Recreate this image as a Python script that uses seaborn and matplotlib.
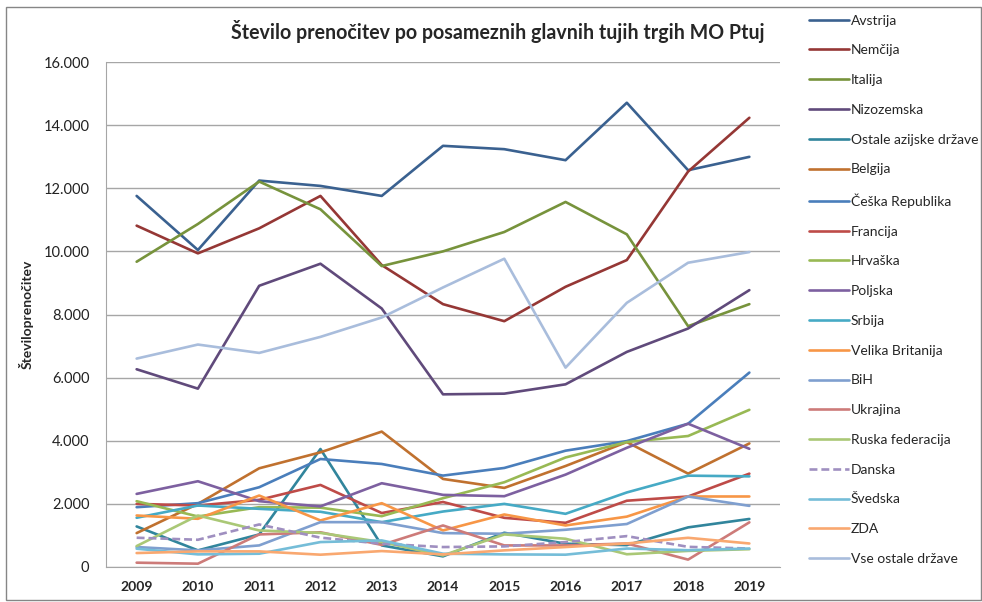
import pandas as pd
import matplotlib
matplotlib.use('Agg')
import matplotlib.pyplot as plt
import matplotlib.ticker as mticker
from matplotlib.patches import Rectangle
import seaborn as sns

years = list(range(2009, 2020))

trgi = ['Avstrija', 'Nemčija', 'Italija', 'Nizozemska', 'Ostale azijske države',
        'Belgija', 'Češka Republika', 'Francija', 'Hrvaška', 'Poljska', 'Srbija',
        'Velika Britanija', 'BiH', 'Ukrajina', 'Ruska federacija', 'Danska',
        'Švedska', 'ZDA', 'Vse ostale države']

avstrija = [11757, 10043, 12243, 12074, 11757, 13344, 13238, 12889, 14709, 12571, 12995]
nemcija = [10815, 9937, 10730, 11757, 9566, 8328, 7788, 8878, 9725, 12529, 14233]
italija = [9672, 10868, 12212, 11333, 9535, 10000, 10614, 11566, 10540, 7630, 8328]
nizozemska = [6265, 5651, 8910, 9609, 8190, 5471, 5492, 5788, 6815, 7556, 8772]
ostale_azijske = [1285, 527, 1032, 3738, 684, 337, 1085, 737, 692, 1255, 1522]
belgija = [1074, 2000, 3127, 3633, 4290, 2790, 2506, 3200, 3958, 2958, 3915]
ceska = [1895, 2022, 2527, 3422, 3264, 2896, 3138, 3685, 3990, 4540, 6160]
francija = [2000, 1948, 2127, 2600, 1710, 2060, 1558, 1400, 2100, 2234, 2958]
hrvaska = [2085, 1600, 1895, 1880, 1610, 2180, 2685, 3470, 3958, 4150, 4980]
poljska = [2316, 2717, 2085, 1920, 2654, 2285, 2243, 2927, 3777, 4540, 3745]
srbija = [1560, 1948, 1843, 1750, 1421, 1758, 2000, 1685, 2362, 2894, 2872]
velika_britanija = [1632, 1527, 2264, 1474, 2022, 1158, 1664, 1316, 1596, 2234, 2234]
bih = [632, 527, 684, 1421, 1421, 1074, 1053, 1180, 1362, 2234, 1937]
ukrajina = [137, 105, 1032, 1100, 700, 1316, 684, 684, 745, 234, 1415]
ruska = [663, 1632, 1158, 1080, 790, 368, 1032, 895, 404, 510, 564]
danska = [927, 863, 1348, 930, 737, 632, 653, 790, 979, 638, 585]
svedska = [580, 400, 421, 790, 842, 421, 400, 390, 585, 532, 585]
zda = [442, 495, 495, 390, 505, 400, 527, 632, 745, 925, 745]
vse_ostale = [6603, 7048, 6783, 7291, 7905, 8857, 9767, 6317, 8370, 9640, 9979]

series = [avstrija, nemcija, italija, nizozemska, ostale_azijske, belgija, ceska,
          francija, hrvaska, poljska, srbija, velika_britanija, bih, ukrajina, ruska,
          danska, svedska, zda, vse_ostale]

colors = ['#3A6190', '#953735', '#77933C', '#604A7B', '#31859C', '#C0712F',
          '#4A7EBB', '#BE4B48', '#98B954', '#7D60A0', '#46AAC5', '#F79646',
          '#7F9FCF', '#CD7B79', '#AAC876', '#9F8FC0', '#75BDD8', '#F9A870', '#A9BDDC']

rows = []
for name, vals in zip(trgi, series):
    for y, v in zip(years, vals):
        rows.append({'Leto': y, 'Prenočitve': v, 'Trg': name})
df = pd.DataFrame(rows)

sns.set_style('white')
plt.rcParams['font.family'] = ['Lato', 'DejaVu Sans']

fig = plt.figure(figsize=(9.82, 6.02), dpi=100)
ax = fig.add_axes([106 / 982, 1 - 567 / 602, (780 - 106) / 982, (567 - 62) / 602])

palette = dict(zip(trgi, colors))
dashes = {t: (3, 1.5) if t == 'Danska' else '' for t in trgi}
sns.lineplot(data=df, x='Leto', y='Prenočitve', hue='Trg', style='Trg',
             palette=palette, dashes=dashes, hue_order=trgi, style_order=trgi,
             linewidth=1.9, ax=ax, legend=True)

handles, labels = ax.get_legend_handles_labels()
ax.get_legend().remove()

ax.set_xlim(2008.5, 2019.5)
ax.set_ylim(0, 16000)
ax.set_xticks(years)
ax.set_xticklabels([str(y) for y in years], fontweight='bold', fontsize=10)
ax.set_yticks(range(0, 16001, 2000))
ax.yaxis.set_major_formatter(mticker.FuncFormatter(lambda v, p: f'{int(v):,}'.replace(',', '.')))
ax.tick_params(axis='y', labelsize=10.5, colors='#222222', length=3, pad=9)
ax.tick_params(axis='x', length=0, pad=10)
ax.grid(axis='y', color='#A6A6A6', linewidth=1)
for s in ['top', 'right']:
    ax.spines[s].set_visible(False)
for s in ['left', 'bottom']:
    ax.spines[s].set_color('#A6A6A6')
ax.set_xlabel('')
ax.set_ylabel('Številoprenočitev', fontweight='bold', fontsize=10, labelpad=7)
ax.set_axisbelow(True)

fig.text(0.507, 0.947, 'Število prenočitev po posameznih glavnih tujih trgih MO Ptuj',
         ha='center', va='center', fontsize=14.1, fontweight='bold')

fig.legend(handles, labels, loc='upper left', bbox_to_anchor=(803 / 982, 1 - 9 / 602),
           frameon=False, fontsize=10, handlelength=2.9, handletextpad=0.15,
           labelspacing=1.28, borderaxespad=0)

fig.patches.append(Rectangle((6 / 982, 2 / 602), 975 / 982, 593 / 602,
                             transform=fig.transFigure, fill=False,
                             edgecolor='#868686', linewidth=1))

fig.savefig('out.png', dpi=100)
